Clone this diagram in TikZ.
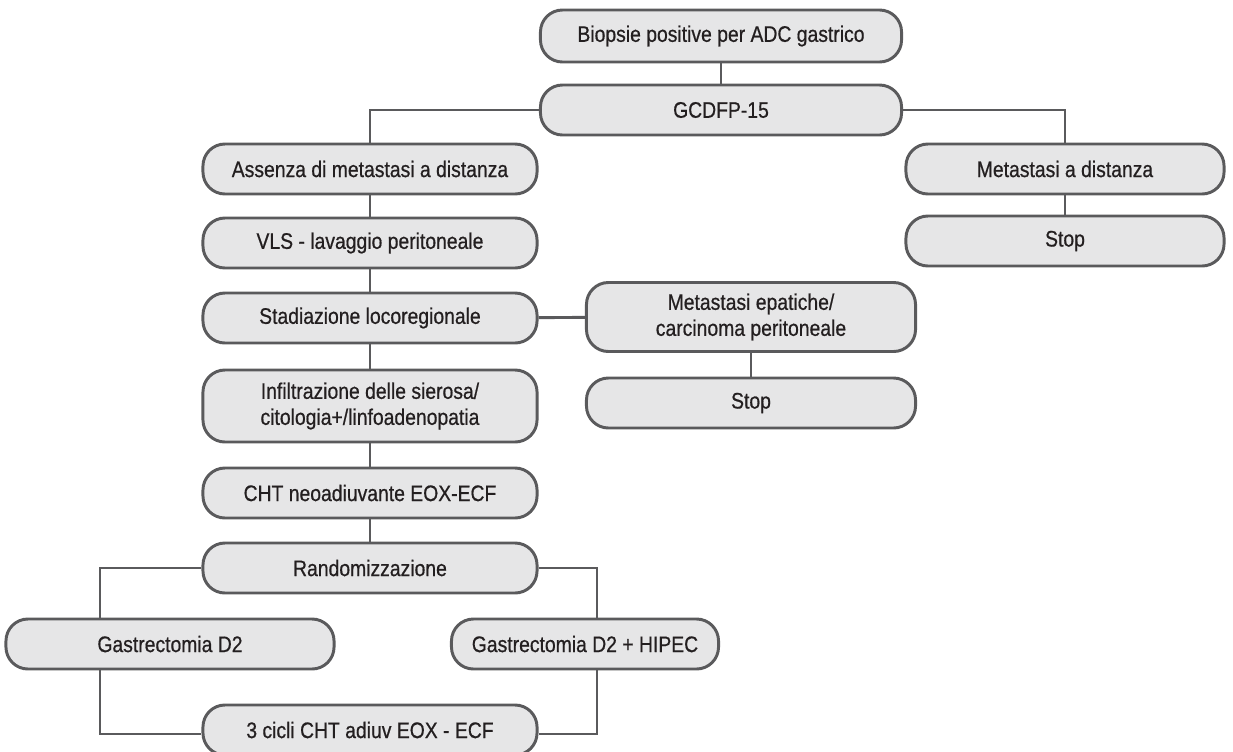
\documentclass[tikz,border=0pt]{standalone}
\usepackage{fontspec}
\setmainfont[FakeStretch=0.86,FakeBold=0.6]{Liberation Sans}
\usetikzlibrary{positioning}

\definecolor{boxfill}{HTML}{E6E6E7}
\definecolor{boxline}{HTML}{5A5A5C}
\definecolor{boxtext}{HTML}{231F20}

\begin{document}
\begin{tikzpicture}[
            x = 0.025cm, y = -0.025cm, % one unit = one pixel of the source
            line width = 2.1pt, % line style
            font = \fontsize{16}{18.5}\selectfont
        ]

        \tikzstyle{stage}=[
            draw = boxline,
            fill = boxfill,
            text = boxtext,
            rounded corners = 0.55cm,
            minimum height = 1.25cm,
            align = center,
            inner sep = 2pt
        ]
        \tikzstyle{link}=[draw = boxline]

        \useasboundingbox (0,0) rectangle (1233,751);

        \node (biopsy) [stage, minimum width = 9.025cm, minimum height = 1.3cm] at (721,36) {Biopsie positive per ADC gastrico};
        \node (marker) [stage, minimum width = 9.025cm] at (721,110) {GCDFP-15};
        \node (nometa) [stage, minimum width = 8.35cm] at (370,169) {Assenza di metastasi a distanza};
        \node (meta) [stage, minimum width = 7.95cm] at (1065,169) {Metastasi a distanza};
        \node (stopa) [stage, minimum width = 7.95cm] at (1065,241) {Stop};
        \node (vls) [stage, minimum width = 8.35cm] at (370,243) {VLS - lavaggio peritoneale};
        \node (staging) [stage, minimum width = 8.35cm] at (370,318) {Stadiazione locoregionale};
        \node (liver) [stage, minimum width = 8.225cm, minimum height = 1.725cm] at (751,317) {Metastasi epatiche/\\carcinoma peritoneale};
        \node (stopb) [stage, minimum width = 8.225cm] at (751,403) {Stop};
        \node (serosa) [stage, minimum width = 8.35cm, minimum height = 1.8cm] at (370,406) {Infiltrazione delle sierosa/\\citologia+/linfoadenopatia};
        \node (neo) [stage, minimum width = 8.35cm] at (370,493) {CHT neoadiuvante EOX-ECF};
        \node (rand) [stage, minimum width = 8.35cm] at (370,568) {Randomizzazione};
        \node (gastro) [stage, minimum width = 8.2cm] at (170,644) {Gastrectomia D2};
        \node (hipec) [stage, minimum width = 6.675cm] at (585,644) {Gastrectomia D2 + HIPEC};
        \node (adjuv) [stage, minimum width = 8.35cm] at (370,730) {3 cicli CHT adiuv EOX - ECF};

        \path[link] (biopsy) edge (marker);
        \draw[link] (marker.west) -| (nometa.north);
        \draw[link] (marker.east) -| (meta.north);
        \path[link] (meta) edge (stopa);
        \path[link] (nometa) edge (vls);
        \path[link] (vls) edge (staging);
        \path[link] (staging) edge (liver);
        \path[link] (liver) edge (stopb);
        \path[link] (staging) edge (serosa);
        \path[link] (serosa) edge (neo);
        \path[link] (neo) edge (rand);
        \draw[link] (rand.west) -| ([xshift=-1.75cm]gastro.north);
        \draw[link] (rand.east) -| ([xshift=0.3cm]hipec.north);
        \draw[link] ([xshift=-1.75cm]gastro.south) |- ([yshift=-0.1cm]adjuv.west);
        \draw[link] ([xshift=0.3cm]hipec.south) |- ([yshift=-0.1cm]adjuv.east);

    \end{tikzpicture}
\end{document}
